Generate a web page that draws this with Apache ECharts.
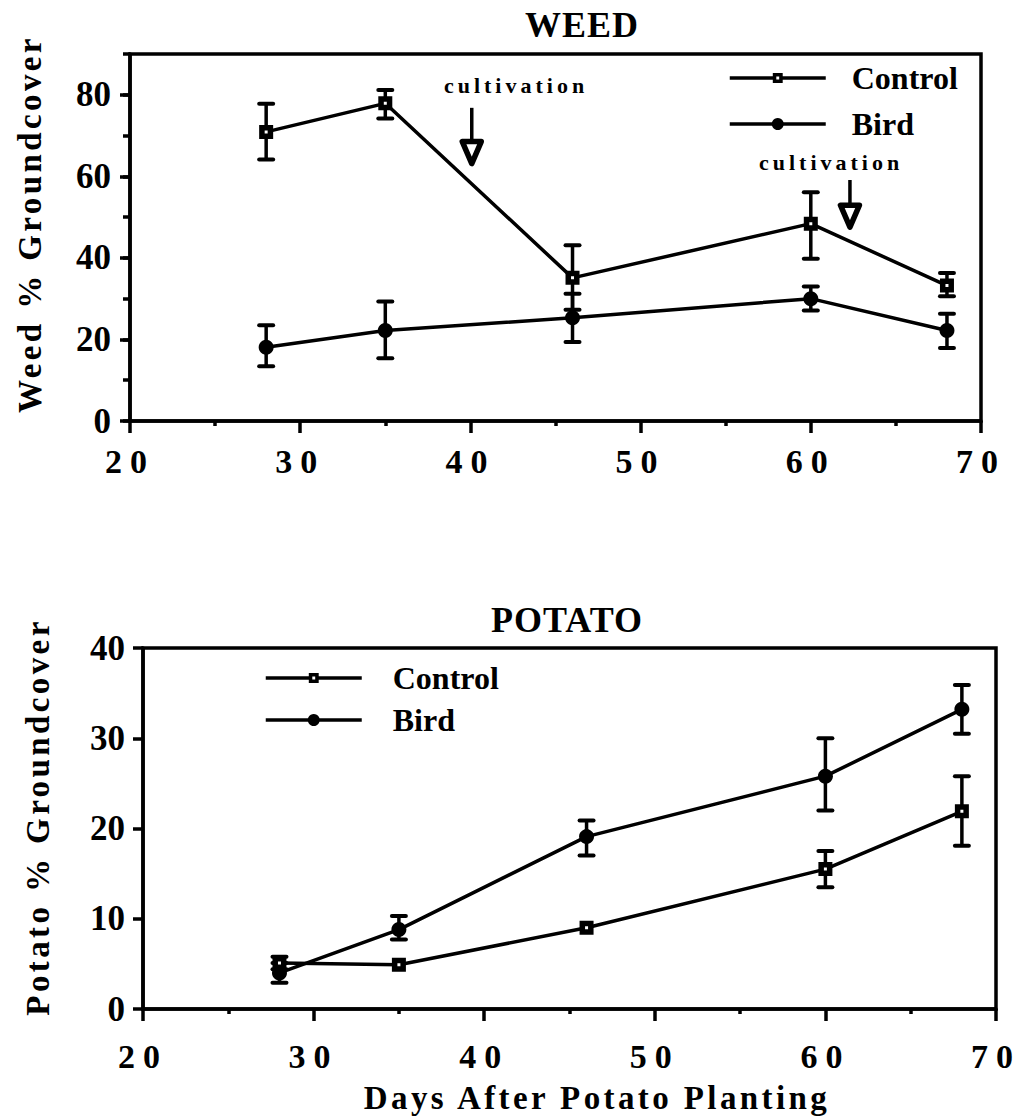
<!DOCTYPE html>
<html>
<head>
<meta charset="utf-8">
<script src="https://cdn.jsdelivr.net/npm/echarts@6/dist/echarts.min.js"></script>
<style>
html, body { margin: 0; padding: 0; background: #fff; }
#chart { width: 1032px; height: 1120px; }
#chart svg text[style*="34px"] { letter-spacing: 8px; }
#chart svg text[style*="33px"] { letter-spacing: 3.4px; }
#chart svg text[style*="22px"] { letter-spacing: 4px; }
#chart svg text[style*="36px"] { letter-spacing: 1px; }
</style>
</head>
<body>
<div id="chart"></div>
<script>
// ---- data ----
const days = [28, 35, 46, 60, 68];

const weedControl     = [70.9, 77.9, 35.1, 48.4, 33.2];
const weedControlLow  = [64.1, 74.2, 27.3, 39.8, 30.6];
const weedControlHigh = [77.8, 81.2, 43.1, 56.1, 36.3];
const weedBird        = [18.1, 22.2, 25.3, 30.0, 22.2];
const weedBirdLow     = [13.4, 15.4, 19.4, 27.1, 17.9];
const weedBirdHigh    = [23.5, 29.3, 31.2, 33.0, 26.3];

const potatoControl     = [5.1, 4.9, 9.0, 15.5, 21.9];
const potatoControlLow  = [4.4, 4.9, 9.0, 13.5, 18.1];
const potatoControlHigh = [5.8, 4.9, 9.0, 17.5, 25.8];
const potatoBird        = [4.0, 8.8, 19.1, 25.8, 33.2];
const potatoBirdLow     = [2.9, 7.7, 17.0, 22.0, 30.5];
const potatoBirdHigh    = [5.1, 10.3, 20.9, 30.0, 35.9];

// cultivation arrows on the weed panel: [day, shaft top value, tip value]
const cultivationArrows = [[40.08, 76.8, 62.4], [62.3, 59.1, 46.8]];
const cultivationLabels = [[42.68, 82.2], [61.19, 63.4]];
const cultivationText = 'cultivation';

const xTicks = [20, 30, 40, 50, 60, 70];
const weedYLabels = [0, 20, 40, 60, 80];
const potatoYLabels = [0, 10, 20, 30, 40];

const seriesNames = ['Control', 'Bird'];
const titles = ['WEED', 'POTATO'];
const yNames = ['Weed % Groundcover', 'Potato % Groundcover'];
const xName = 'Days After Potato Planting';

// ---- helpers ----
const FONT = 'Liberation Serif';
const zip = (v) => days.map((d, i) => [d, v[i]]);
const zipErr = (lo, hi) => days.map((d, i) => [d, lo[i], hi[i]]);

function errRender(params, api) {
  const x = api.value(0), lo = api.value(1), hi = api.value(2);
  const a = api.coord([x, lo]), b = api.coord([x, hi]);
  if (Math.abs(a[1] - b[1]) < 1) return null;
  const hw = 7;
  const st = { stroke: '#000', lineWidth: 3.5 };
  const cap = { stroke: '#000', lineWidth: 4, lineCap: 'round' };
  return { type: 'group', children: [
    { type: 'line', shape: { x1: a[0], y1: a[1], x2: b[0], y2: b[1] }, style: st },
    { type: 'line', shape: { x1: a[0] - hw, y1: a[1], x2: a[0] + hw, y2: a[1] }, style: cap },
    { type: 'line', shape: { x1: b[0] - hw, y1: b[1], x2: b[0] + hw, y2: b[1] }, style: cap }
  ]};
}

function arrowRender(params, api) {
  const x = api.value(0), top = api.value(1), tip = api.value(2);
  const p0 = api.coord([x, top]), p1 = api.coord([x, tip]);
  const headH = 25, hw = 9.5;
  const cx = p0[0];
  return { type: 'group', children: [
    { type: 'line', shape: { x1: cx, y1: p0[1], x2: cx, y2: p1[1] - headH + 2 }, style: { stroke: '#000', lineWidth: 3.5 } },
    { type: 'polygon', shape: { points: [[cx - hw, p1[1] - headH], [cx + hw, p1[1] - headH], [cx, p1[1] - 3]] },
      style: { fill: '#fff', stroke: '#000', lineWidth: 5.5, lineJoin: 'round' } }
  ]};
}

function labelRender(params, api) {
  const p = api.coord([api.value(0), api.value(1)]);
  return { type: 'text', x: p[0], y: p[1],
    style: { text: cultivationText, fill: '#000', fontSize: 22, fontWeight: 'bold', fontFamily: FONT,
             align: 'center', verticalAlign: 'middle', textAlign: 'center', textVerticalAlign: 'middle' } };
}

const axisLineStyle = { color: '#000', width: 3.5 };
const tickStyle = { color: '#000', width: 3.5 };

function makeX(gridIndex, margin) {
  return {
    type: 'value', gridIndex, min: xTicks[0], max: xTicks[xTicks.length - 1], interval: 10,
    axisLine: { show: true, onZero: false, lineStyle: axisLineStyle },
    axisTick: { show: true, length: 12, lineStyle: tickStyle },
    minorTick: { show: true, splitNumber: 2, length: 5, lineStyle: tickStyle },
    splitLine: { show: false },
    axisLabel: { margin, color: '#000', fontSize: 34, fontWeight: 'bold', fontFamily: FONT,
                 customValues: xTicks }
  };
}

const lineCommon = {
  type: 'line', z: 3,
  lineStyle: { color: '#000', width: 3.5 },
  emphasis: { disabled: true },
  animation: false
};
const controlStyle = { symbol: 'rect', symbolSize: 8.5, itemStyle: { color: '#fff', borderColor: '#000', borderWidth: 5.5 } };
const birdStyle = { symbol: 'circle', symbolSize: 15, itemStyle: { color: '#000', borderColor: '#000', borderWidth: 0 } };

const legendCommon = {
  orient: 'vertical', itemWidth: 96, itemHeight: 8, selectedMode: false, padding: 0,
  lineStyle: { color: '#000', width: 3.5 },
  textStyle: { color: '#000', fontSize: 32, fontWeight: 'bold', fontFamily: FONT }
};
const legendData = [
  { name: seriesNames[0], itemStyle: { borderWidth: 3.5 } },
  { name: seriesNames[1], itemStyle: { borderWidth: 5.5 } }
];

const option = {
  animation: false,
  backgroundColor: '#fff',
  grid: [
    { left: 130, top: 54, width: 851, height: 367, show: true, borderColor: '#000', borderWidth: 3.5, backgroundColor: 'transparent' },
    { left: 143, top: 648, width: 853, height: 361, show: true, borderColor: '#000', borderWidth: 3.5, backgroundColor: 'transparent' }
  ],
  xAxis: [ makeX(0, 23), makeX(1, 30) ],
  yAxis: [
    { type: 'value', gridIndex: 0, position: 'left', min: 0, max: 90, interval: 10,
      axisLine: { show: true, lineStyle: axisLineStyle },
      axisTick: { show: true, length: 7, lineStyle: tickStyle },
      axisLabel: { show: false }, splitLine: { show: false } },
    { type: 'value', gridIndex: 0, position: 'left', offset: 0, min: 0, max: 90, interval: 10,
      axisLine: { show: false },
      axisTick: { show: true, length: 10, lineStyle: tickStyle, customValues: weedYLabels },
      axisLabel: { margin: 19, color: '#000', fontSize: 35, fontWeight: 'bold', fontFamily: FONT, customValues: weedYLabels },
      splitLine: { show: false } },
    { type: 'value', gridIndex: 1, position: 'left', min: 0, max: 40, interval: 10,
      axisLine: { show: true, lineStyle: axisLineStyle },
      axisTick: { show: true, length: 10, lineStyle: tickStyle },
      axisLabel: { margin: 18, color: '#000', fontSize: 35, fontWeight: 'bold', fontFamily: FONT, customValues: potatoYLabels },
      splitLine: { show: false } }
  ],
  legend: [
    Object.assign({}, legendCommon, { left: 728, top: 62, itemGap: 14,
      textStyle: Object.assign({}, legendCommon.textStyle, { padding: [0, 0, 0, 21] }),
      data: legendData }),
    Object.assign({}, legendCommon, { left: 264, top: 662, itemGap: 10,
      textStyle: Object.assign({}, legendCommon.textStyle, { padding: [0, 0, 0, 26] }),
      data: legendData })
  ],
  graphic: [
    { type: 'text', x: 582, y: 25, style: { text: titles[0], fill: '#000', fontSize: 36, fontWeight: 'bold', fontFamily: FONT, textAlign: 'center', textVerticalAlign: 'middle' } },
    { type: 'text', x: 567, y: 620, style: { text: titles[1], fill: '#000', fontSize: 36, fontWeight: 'bold', fontFamily: FONT, textAlign: 'center', textVerticalAlign: 'middle' } },
    { type: 'text', x: 30, y: 224, rotation: Math.PI / 2, style: { text: yNames[0], fill: '#000', fontSize: 33, fontWeight: 'bold', fontFamily: FONT, textAlign: 'center', textVerticalAlign: 'middle' } },
    { type: 'text', x: 38, y: 817, rotation: Math.PI / 2, style: { text: yNames[1], fill: '#000', fontSize: 33, fontWeight: 'bold', fontFamily: FONT, textAlign: 'center', textVerticalAlign: 'middle' } },
    { type: 'text', x: 597, y: 1098, style: { text: xName, fill: '#000', fontSize: 33, fontWeight: 'bold', fontFamily: FONT, textAlign: 'center', textVerticalAlign: 'middle' } }
  ],
  series: [
    // weed panel
    { type: 'custom', name: 'Control SE weed', xAxisIndex: 0, yAxisIndex: 0, z: 2, renderItem: errRender, data: zipErr(weedControlLow, weedControlHigh), encode: { x: 0, y: [1, 2] }, silent: true },
    { type: 'custom', name: 'Bird SE weed', xAxisIndex: 0, yAxisIndex: 0, z: 2, renderItem: errRender, data: zipErr(weedBirdLow, weedBirdHigh), encode: { x: 0, y: [1, 2] }, silent: true },
    Object.assign({}, lineCommon, controlStyle, { name: seriesNames[0], xAxisIndex: 0, yAxisIndex: 0, data: zip(weedControl) }),
    Object.assign({}, lineCommon, birdStyle, { name: seriesNames[1], xAxisIndex: 0, yAxisIndex: 0, data: zip(weedBird) }),
    { type: 'custom', name: 'cultivation arrows', xAxisIndex: 0, yAxisIndex: 0, z: 4, renderItem: arrowRender, data: cultivationArrows, encode: { x: 0, y: [1, 2] }, silent: true },
    { type: 'custom', name: 'cultivation labels', xAxisIndex: 0, yAxisIndex: 0, z: 4, renderItem: labelRender, data: cultivationLabels, encode: { x: 0, y: 1 }, silent: true },
    // potato panel
    { type: 'custom', name: 'Control SE potato', xAxisIndex: 1, yAxisIndex: 2, z: 2, renderItem: errRender, data: zipErr(potatoControlLow, potatoControlHigh), encode: { x: 0, y: [1, 2] }, silent: true },
    { type: 'custom', name: 'Bird SE potato', xAxisIndex: 1, yAxisIndex: 2, z: 2, renderItem: errRender, data: zipErr(potatoBirdLow, potatoBirdHigh), encode: { x: 0, y: [1, 2] }, silent: true },
    Object.assign({}, lineCommon, controlStyle, { name: seriesNames[0], xAxisIndex: 1, yAxisIndex: 2, data: zip(potatoControl) }),
    Object.assign({}, lineCommon, birdStyle, { name: seriesNames[1], xAxisIndex: 1, yAxisIndex: 2, data: zip(potatoBird) })
  ]
};

const chart = echarts.init(document.getElementById('chart'), null, { renderer: 'svg', width: 1032, height: 1120 });
chart.setOption(option);
</script>
</body>
</html>
